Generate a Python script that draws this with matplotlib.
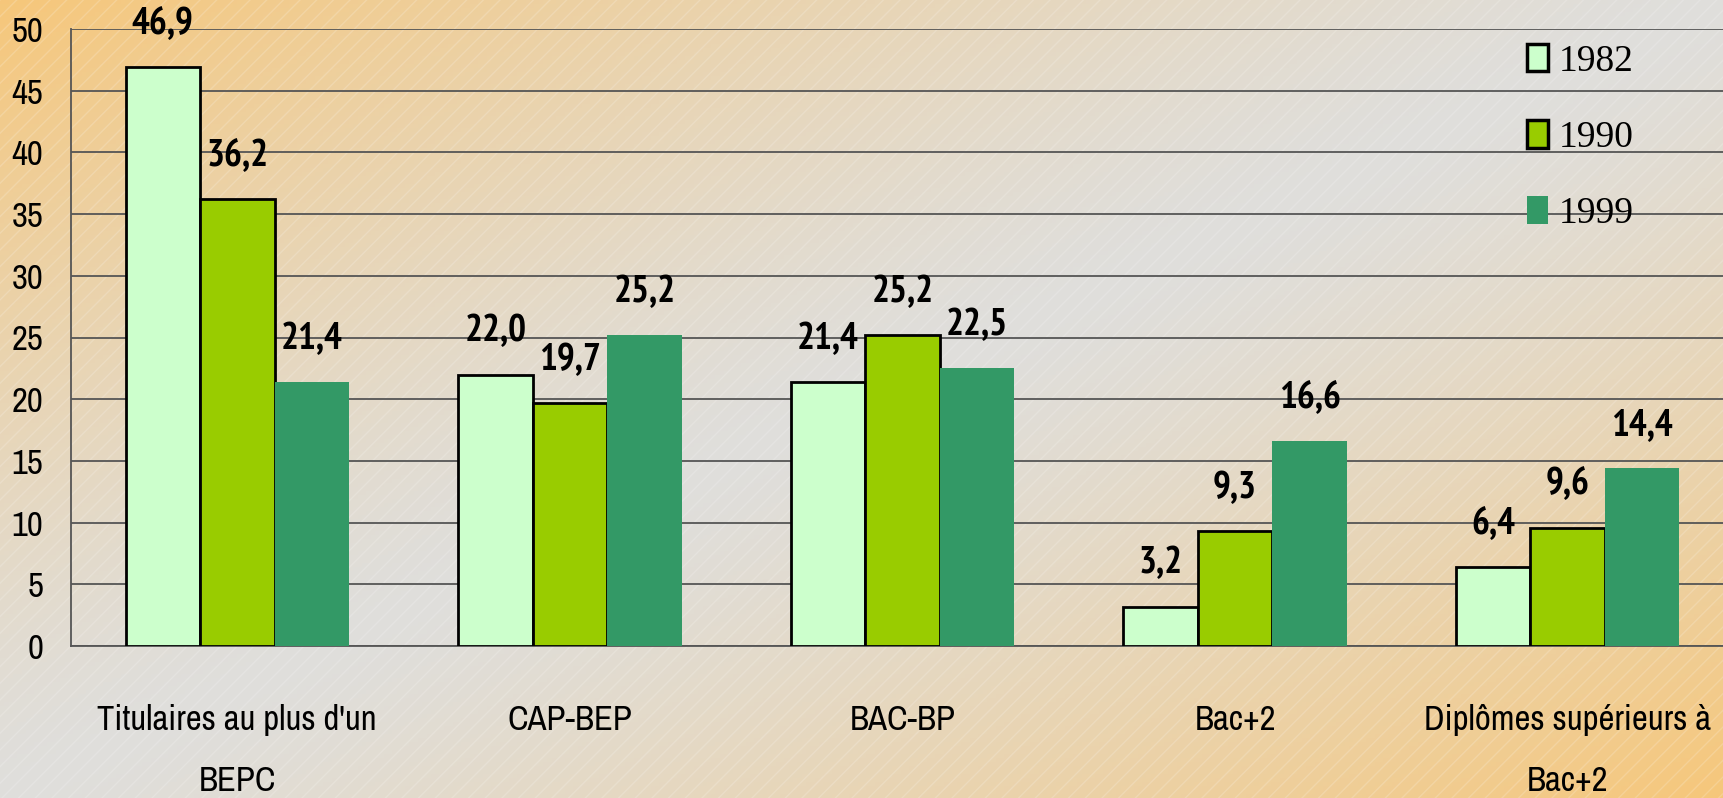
import matplotlib
matplotlib.use("Agg")
import matplotlib.pyplot as plt
import matplotlib.patches as mpatches
from matplotlib import font_manager
import numpy as np

# Donnees
categories = ["Titulaires au plus d'un\nBEPC", "CAP-BEP", "BAC-BP", "Bac+2",
              "Diplômes supérieurs à\nBac+2"]
annees = ["1982", "1990", "1999"]
v1982 = [46.9, 22.0, 21.4, 3.2, 6.4]
v1990 = [36.2, 19.7, 25.2, 9.3, 9.6]
v1999 = [21.4, 25.2, 22.5, 16.6, 14.4]
series = [v1982, v1990, v1999]

couleurs = ["#CCFFCC", "#99CC00", "#339966"]
bords = ["black", "black", "none"]

# Police etroite type Arial Narrow, si dispo
polices = font_manager.fontManager.ttflist
def choisir(prefs, gras=False):
    for p in prefs:
        faces = [f for f in polices if f.name == p]
        if gras:
            faces = [f for f in faces if (f.weight if isinstance(f.weight, int)
                                          else 400) >= 600
                     or f.weight == "bold"]
        if faces:
            return [p, "DejaVu Sans"]
    return ["DejaVu Sans"]
etroites = ["Liberation Sans Narrow", "Arial Narrow", "Archivo Narrow",
            "PT Sans Narrow", "Roboto Condensed", "Open Sans Condensed",
            "IBM Plex Sans Condensed", "Encode Sans Condensed",
            "Fira Sans Condensed", "Barlow Semi Condensed", "Asap Condensed",
            "Sofia Sans Condensed", "DejaVu Sans Condensed"]
narrow = choisir(etroites)
narrow_gras = choisir(etroites, gras=True)
serif = choisir(["Liberation Serif", "Tinos", "Times New Roman", "DejaVu Serif"])

W, H = 1724, 798
fig = plt.figure(figsize=(W / 100, H / 100), dpi=100)

# Fond en degrade diagonal (orange aux coins, gris au centre)
bg = fig.add_axes([0, 0, 1, 1], zorder=-10)
xx, yy = np.meshgrid(np.linspace(0, 1, 400), np.linspace(0, 1, 200))
t = np.abs((xx + yy) / 2 - 0.5) * 2
orange = np.array([0.965, 0.78, 0.48])
gris = np.array([0.875, 0.872, 0.862])
w = np.clip(t, 0, 1) ** 1.3
img = gris[None, None, :] * (1 - w[..., None]) + orange[None, None, :] * w[..., None]
bg.imshow(img, aspect="auto", extent=[0, 1, 0, 1], origin="upper")
bg.add_patch(mpatches.Rectangle((0, 0), 1, 1, facecolor="none", hatch="//",
                                edgecolor=(1, 1, 1, 0.18), linewidth=0))
bg.set_xlim(0, 1)
bg.set_ylim(0, 1)
bg.axis("off")

ax = fig.add_axes([71 / W, 1 - 646 / H, 1 - 71 / W, (646 - 29) / H])
ax.set_facecolor("none")

x = np.arange(len(categories))
largeur = 0.224
for j, vals in enumerate(series):
    ax.bar(x + (j - 1) * largeur, vals, largeur, color=couleurs[j],
           edgecolor=bords[j], linewidth=2.0 if bords[j] != "none" else 0,
           zorder=3, label=annees[j])
    for xi, v in zip(x + (j - 1) * largeur, vals):
        ax.annotate(f"{v:.1f}".replace(".", ","), (xi, v), xytext=(0, 18),
                    textcoords="offset points", ha="center", va="bottom",
                    fontsize=27, fontweight="bold", family=narrow_gras,
                    annotation_clip=False)

ax.set_ylim(0, 50)
ax.set_xlim(-0.5, 4.47)
ax.set_yticks(range(0, 51, 5))
ax.yaxis.grid(True, color="#555555", linewidth=1.3, zorder=1)
ax.set_axisbelow(True)
ax.set_xticks(x)
ax.set_xticklabels(categories)
for lbl in ax.get_xticklabels():
    lbl.set_linespacing(2.1)
    lbl.set_family(narrow)
    lbl.set_fontsize(25)
for lbl in ax.get_yticklabels():
    lbl.set_family(narrow)
    lbl.set_fontsize(25)
ax.tick_params(axis="y", length=0, pad=20)
ax.tick_params(axis="x", length=0, pad=42)
for s in ["top", "right"]:
    ax.spines[s].set_visible(False)
ax.spines["left"].set_color("#555555")
ax.spines["left"].set_linewidth(1.3)
ax.spines["bottom"].set_color("#555555")
ax.spines["bottom"].set_linewidth(1.3)

poignees = [mpatches.Patch(facecolor=couleurs[j], edgecolor=bords[j],
                           linewidth=2.5 if bords[j] != "none" else 0)
            for j in range(3)]
fig.legend(poignees, annees, loc="upper left",
           bbox_to_anchor=(1527 / W, 1 - 44 / H), frameon=False,
           prop={"family": serif, "size": 27}, handlelength=0.55,
           handleheight=0.75, handletextpad=0.3, labelspacing=1.1,
           borderpad=0, borderaxespad=0)

fig.savefig("out.png", dpi=100)
